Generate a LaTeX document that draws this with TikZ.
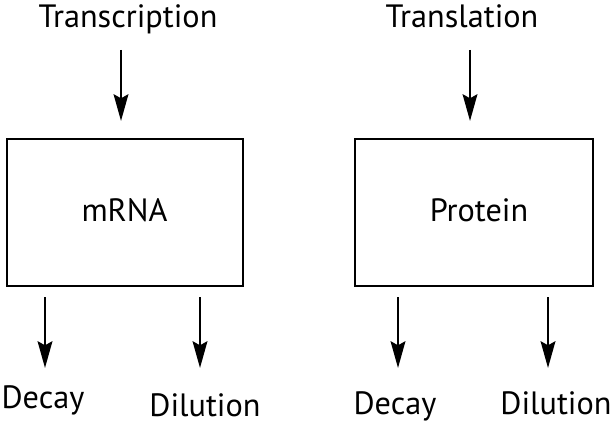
\documentclass[tikz,border=0pt]{standalone}
\usepackage{fontspec}
\setmainfont{PT Sans}
\usetikzlibrary{arrows.meta}
\begin{document}
\begin{tikzpicture}[x=0.75pt,y=-0.75pt,
  lbl/.style={font=\fontsize{24.2}{27}\selectfont, inner sep=0pt, anchor=base},
  boxnode/.style={draw, line width=1.7pt, minimum height=147*0.75pt, inner sep=0pt},
  flow/.style={line width=2.1pt, -{Stealth[length=20pt, width=11pt, inset=3pt]}}]
\useasboundingbox (0,0) rectangle (613,424);
\node[boxnode, minimum width=236*0.75pt] (mrna) at (125,212.5) {};
\node[boxnode, minimum width=238*0.75pt] (prot) at (474,212.5) {};
\node[lbl] (mrnat) at (124.5,221) {mRNA};
\node[lbl] (prott) at (479,221) {Protein};
\node[lbl] (tsc) at (128,28) {Transcription};
\node[lbl] (tsl) at (462,28) {Translation};
\node[lbl] (dec1) at (43,408) {Decay};
\node[lbl] (dil1) at (205,416) {Dilution};
\node[lbl] (dec2) at (395,414) {Decay};
\node[lbl] (dil2) at (556,414) {Dilution};
\coordinate (a1s) at (121,50); \coordinate (a1e) at (121,121);
\coordinate (a2s) at (470,50); \coordinate (a2e) at (470,121);
\coordinate (b1s) at (45,297); \coordinate (b1e) at (45,368);
\coordinate (b2s) at (200,297); \coordinate (b2e) at (200,368);
\coordinate (b3s) at (398,297); \coordinate (b3e) at (398,368);
\coordinate (b4s) at (548,297); \coordinate (b4e) at (548,368);
\draw[flow] (a1s) -- (a1e);
\draw[flow] (a2s) -- (a2e);
\draw[flow] (b1s) -- (b1e);
\draw[flow] (b2s) -- (b2e);
\draw[flow] (b3s) -- (b3e);
\draw[flow] (b4s) -- (b4e);
\end{tikzpicture}
\end{document}
